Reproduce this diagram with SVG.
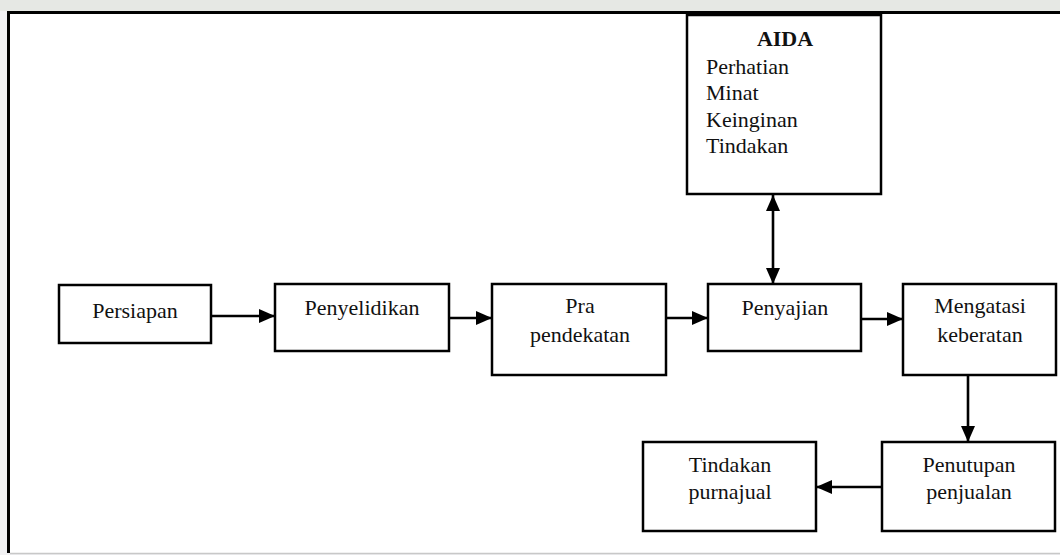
<svg xmlns="http://www.w3.org/2000/svg" width="1060" height="555" viewBox="0 0 1060 555">
  <defs>
    <marker id="arr" markerUnits="userSpaceOnUse" markerWidth="16" markerHeight="14" refX="16" refY="7" orient="auto-start-reverse">
      <path d="M0,0 L16,7 L0,14 z" fill="#000"/>
    </marker>
    <style>
      .box { fill: #fff; stroke: #000; stroke-width: 2.5; }
      .t { font-family: "Liberation Serif", "Times New Roman", serif; font-size: 22px; fill: #111; }
      .c { text-anchor: middle; }
      .b { font-weight: bold; }
      .conn line { stroke: #000; stroke-width: 2.6; marker-end: url(#arr); }
    </style>
  </defs>

  <rect x="0" y="0" width="1060" height="555" fill="#f1f1f3"/>
  <rect x="0" y="0" width="1060" height="11" fill="#e6e8e4"/>
  <rect x="9" y="13" width="1051" height="540" fill="#fff"/>
  <line x1="7" y1="12.5" x2="1060" y2="12.5" stroke="#000" stroke-width="3"/>
  <line x1="8.5" y1="11" x2="8.5" y2="553" stroke="#000" stroke-width="3"/>
  <line x1="10" y1="553.5" x2="1060" y2="553.5" stroke="#c8c8c8" stroke-width="1.5"/>

  <g id="aida">
    <rect class="box" x="687" y="15" width="194" height="179"/>
    <text class="t b c" x="785" y="46">AIDA</text>
    <text class="t" x="706" y="74">Perhatian</text>
    <text class="t" x="706" y="100">Minat</text>
    <text class="t" x="706" y="127">Keinginan</text>
    <text class="t" x="706" y="153">Tindakan</text>
  </g>

  <g id="persiapan">
    <rect class="box" x="59" y="285" width="152" height="58"/>
    <text class="t c" x="135" y="318">Persiapan</text>
  </g>

  <g id="penyelidikan">
    <rect class="box" x="275" y="284" width="174" height="67"/>
    <text class="t c" x="362" y="315">Penyelidikan</text>
  </g>

  <g id="pra-pendekatan">
    <rect class="box" x="492" y="284" width="174" height="91"/>
    <text class="t c" x="580" y="313">Pra</text>
    <text class="t c" x="580" y="342">pendekatan</text>
  </g>

  <g id="penyajian">
    <rect class="box" x="708" y="284" width="153" height="67"/>
    <text class="t c" x="785" y="315">Penyajian</text>
  </g>

  <g id="mengatasi-keberatan">
    <rect class="box" x="903" y="284" width="153" height="91"/>
    <text class="t c" x="980" y="313">Mengatasi</text>
    <text class="t c" x="980" y="342">keberatan</text>
  </g>

  <g id="penutupan-penjualan">
    <rect class="box" x="882" y="442" width="173" height="89"/>
    <text class="t c" x="969" y="472">Penutupan</text>
    <text class="t c" x="969" y="499">penjualan</text>
  </g>

  <g id="tindakan-purnajual">
    <rect class="box" x="643" y="442" width="173" height="89"/>
    <text class="t c" x="730" y="472">Tindakan</text>
    <text class="t c" x="730" y="499">purnajual</text>
  </g>

  <g class="conn" id="connectors">
    <line x1="212" y1="316" x2="275" y2="316"/>
    <line x1="450" y1="318" x2="492" y2="318"/>
    <line x1="667" y1="318" x2="708" y2="318"/>
    <line x1="862" y1="319" x2="903" y2="319"/>
    <line x1="773" y1="195" x2="773" y2="284" style="marker-start: url(#arr);"/>
    <line x1="968" y1="376" x2="968" y2="442"/>
    <line x1="881" y1="487" x2="816" y2="487"/>
  </g>
</svg>
